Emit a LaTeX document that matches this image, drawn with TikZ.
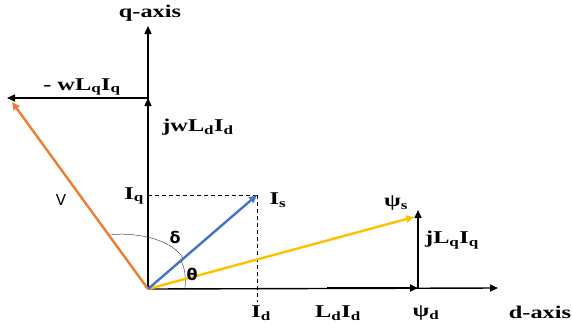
\documentclass[tikz,border=0pt]{standalone}
\usepackage{fontspec}
\setmainfont{Liberation Serif}[FakeStretch=1.35]
\newfontfamily\symfont{DejaVu Sans}
\usepackage{tikz}
\usetikzlibrary{arrows.meta}
\usepackage{xcolor}
\definecolor{vorange}{RGB}{237,125,49}
\definecolor{isblue}{RGB}{68,114,196}
\definecolor{psiyellow}{RGB}{255,192,0}

\begin{document}
\begin{tikzpicture}[x=1pt, y=-1pt,
    axis/.style={line width=1.4pt, -{Triangle[length=8pt,width=7pt]}},
    vec/.style={line width=2.4pt, -{Triangle[length=8pt,width=7pt]}},
    guide/.style={line width=0.8pt, dash pattern=on 4pt off 3pt},
    lbl/.style={font=\fontsize{18}{20}\selectfont\bfseries, inner sep=1pt},
    greek/.style={font=\fontsize{16}{18}\selectfont\symfont\bfseries, inner sep=1pt}]
    \useasboundingbox (0,0) rectangle (572,327);
    % points of the diagram
    \coordinate (O) at (148,289);
    \coordinate (qtop) at (148,26);
    \coordinate (dend) at (498,288);
    \coordinate (jw) at (148,98);
    \coordinate (wl) at (7,98);
    \coordinate (vtip) at (12,102);
    \coordinate (istip) at (257,195);
    \coordinate (iq) at (148,195);
    \coordinate (idfoot) at (257,302);
    \coordinate (ldstart) at (327,288);
    \coordinate (psid) at (418,288);
    \coordinate (psis) at (414,217);
    \coordinate (jl) at (418,210);

    % axes and voltage terms
    \draw[axis] (O) -- (qtop);
    \draw[axis] (O) -- (dend);
    \draw[axis] (O) -- (jw);
    \draw[axis] (jw) -- (wl);
    \draw[vec] (ldstart) -- (psid);
    \draw[axis] (psid) -- (jl);

    % projections of I_s
    \draw[guide] (iq) -- (istip);
    \draw[guide] (istip) -- (idfoot);

    % angles
    \draw[line width=0.5pt, black!70] (110,235) .. controls (130,232) and (170,237) .. (183,258);
    \draw[line width=0.5pt, black!70] (185,288) .. controls (186,278) and (185,268) .. (181,261);

    % colour vectors
    \draw[vec, vorange] (O) -- (vtip);
    \draw[vec, psiyellow] (O) -- (psis);
    \draw[vec, isblue] (O) -- (istip);

    % labels
    \node[lbl] (qlab) at (150,13) {q-axis};
    \node[lbl] (dlab) at (540,312) {d-axis};
    \node[lbl] (wlab) at (82,87) {- wL\textsubscript{q}I\textsubscript{q}};
    \node[lbl] (jwlab) at (198,127) {jwL\textsubscript{d}I\textsubscript{d}};
    \node[greek, font=\fontsize{15}{17}\selectfont\symfont] (vlab) at (61,200) {V};
    \node[lbl] (iqlab) at (134,196) {I\textsubscript{q}};
    \node[lbl] (islab) at (278,200) {I\textsubscript{s}};
    \node[greek] (dellab) at (175,237) {δ};
    \node[greek] (thlab) at (192,274) {θ};
    \node[lbl] (pslab) at (396,203) {ψ\textsubscript{s}};
    \node[lbl] (jllab) at (452,240) {jL\textsubscript{q}I\textsubscript{q}};
    \node[lbl] (idlab) at (261,313) {I\textsubscript{d}};
    \node[lbl] (ldlab) at (338,313) {L\textsubscript{d}I\textsubscript{d}};
    \node[lbl] (pdlab) at (426,313) {ψ\textsubscript{d}};
\end{tikzpicture}
\end{document}
